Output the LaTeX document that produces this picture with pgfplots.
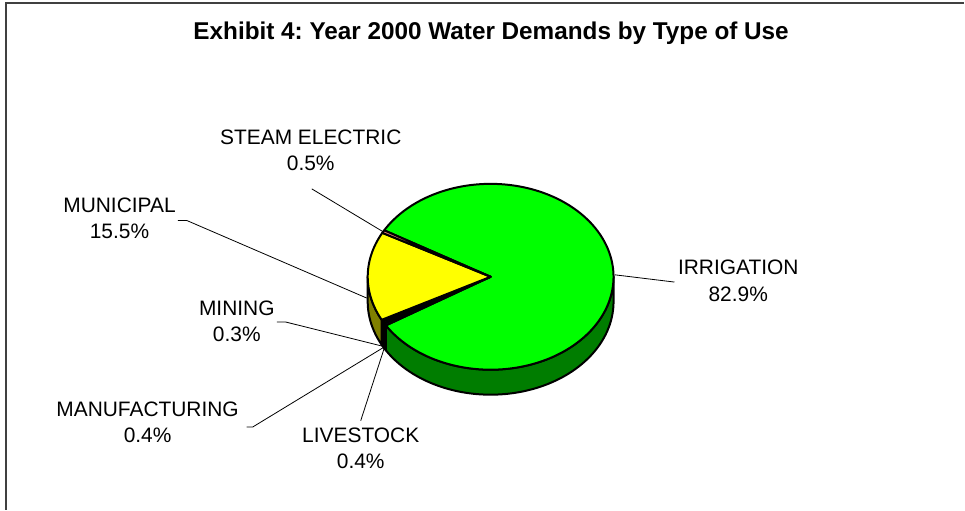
\documentclass[border=0pt]{standalone}
\usepackage{pgfplots}
\pgfplotsset{compat=1.18}
\usepackage{pgfplotstable}
\usepackage{fontspec}
\setmainfont{Liberation Sans}
\frenchspacing
\definecolor{irrtop}{RGB}{0,255,0}
\definecolor{irrside}{RGB}{0,125,0}
\definecolor{muntop}{RGB}{255,255,0}
\definecolor{munside}{RGB}{128,128,0}
\definecolor{steamc}{RGB}{255,128,128}
\definecolor{livc}{RGB}{25,25,40}
\definecolor{manc}{RGB}{40,25,25}
\definecolor{minc}{RGB}{30,30,10}
\newcommand\lab{\fontsize{21}{25}\selectfont}

\pgfplotstableread{
use value
Irrigation 82.9
Livestock 0.4
Manufacturing 0.4
Mining 0.3
Municipal 15.5
SteamElectric 0.5
}\piedata

% pie geometry (axis units = pixels)
\def\cx{491}\def\cy{233}\def\rx{123}\def\ry{93}\def\dep{25}

\newcommand\piewall[3]{%
  \addplot[fill=#1, draw=black, line width=2bp, line join=round, domain=0:2, samples=301]
   ({\cx+\rx*cos(x<1 ? (#2)+((#3)-(#2))*x : (#3)-((#3)-(#2))*(x-1))},
    {\cy+\ry*sin(x<1 ? (#2)+((#3)-(#2))*x : (#3)-((#3)-(#2))*(x-1)) - (x<1 ? 0 : \dep)}) -- cycle;}
\newcommand\pieslice[4]{%
  \addplot[fill=#1, draw=black, line width=2bp, line join=round, domain=#2:#3, samples=#4]
   ({\cx+\rx*cos(x)},{\cy+\ry*sin(x)}) -- (axis cs:\cx,\cy) -- cycle;}

\begin{document}
\begin{tikzpicture}
\pgfplotstablegetelem{0}{value}\of\piedata \let\vIrr\pgfplotsretval
\pgfplotstablegetelem{1}{value}\of\piedata \let\vLiv\pgfplotsretval
\pgfplotstablegetelem{2}{value}\of\piedata \let\vMan\pgfplotsretval
\pgfplotstablegetelem{3}{value}\of\piedata \let\vMin\pgfplotsretval
\pgfplotstablegetelem{4}{value}\of\piedata \let\vMun\pgfplotsretval
\pgfplotstablegetelem{5}{value}\of\piedata \let\vSte\pgfplotsretval
\pgfmathsetmacro\aS{150}
\pgfmathsetmacro\aA{\aS-3.6*\vIrr}
\pgfmathsetmacro\aB{\aA-3.6*\vLiv}
\pgfmathsetmacro\aC{\aB-3.6*\vMan}
\pgfmathsetmacro\aD{\aC-3.6*\vMin}
\pgfmathsetmacro\aE{\aD-3.6*\vMun}
\pgfmathsetmacro\aF{\aE-3.6*\vSte}
\begin{axis}[width=965bp, height=510bp, scale only axis,
  xmin=0, xmax=965, ymin=0, ymax=510, hide axis, clip=false]
\path (axis cs:0,0) rectangle (axis cs:965,510);
% frame
\draw[black!75, line width=1.5bp] (axis cs:6,0) -- (axis cs:6,507) -- (axis cs:965,507);
% title
\node[anchor=base, font=\fontsize{24.4}{29}\selectfont\bfseries] at (axis cs:491.5,470)
  {Exhibit 4: Year 2000 Water Demands by Type of Use};
% side walls (front half)
\piewall{irrside}{\aA}{0}
\piewall{livc}{\aB}{\aA}
\piewall{manc}{\aC}{\aB}
\piewall{minc}{\aD}{\aC}
\piewall{munside}{-180}{\aD}
% top faces
\pieslice{irrtop}{\aA}{\aS}{180}
\pieslice{livc}{\aB}{\aA}{3}
\pieslice{manc}{\aC}{\aB}{3}
\pieslice{minc}{\aD}{\aC}{3}
\pieslice{muntop}{\aE}{\aD}{40}
\pieslice{steamc}{\aF}{\aE}{3}
% leader lines
\draw[black, line width=0.8bp] (axis cs:615,235) -- (axis cs:675,227.7);
\draw[black, line width=0.8bp] (axis cs:178,289.3) -- (axis cs:187,289.3) -- (axis cs:367,211.7);
\draw[black, line width=0.8bp] (axis cs:312,321) -- (axis cs:383,278.3);
\draw[black, line width=0.8bp] (axis cs:277,187.7) -- (axis cs:286,187.7) -- (axis cs:385,163);
\draw[black, line width=0.8bp] (axis cs:246.7,82.7) -- (axis cs:253,82.7) -- (axis cs:385,163);
\draw[black, line width=0.8bp] (axis cs:361,89) -- (axis cs:385,163);
% labels
\node[anchor=base, font=\lab] at (axis cs:311,365) {STEAM ELECTRIC};
\node[anchor=base, font=\lab] at (axis cs:311,339.5) {0.5\%};
\node[anchor=base, font=\lab] at (axis cs:119.6,297) {MUNICIPAL};
\node[anchor=base, font=\lab] at (axis cs:119.6,271) {15.5\%};
\node[anchor=base, font=\lab] at (axis cs:237,194) {MINING};
\node[anchor=base, font=\lab] at (axis cs:237,168.3) {0.3\%};
\node[anchor=base, font=\lab] at (axis cs:147.7,93.3) {MANUFACTURING};
\node[anchor=base, font=\lab] at (axis cs:147.7,67) {0.4\%};
\node[anchor=base, font=\lab] at (axis cs:361,67.5) {LIVESTOCK};
\node[anchor=base, font=\lab] at (axis cs:361,41) {0.4\%};
\node[anchor=base, font=\lab] at (axis cs:738.8,235.7) {IRRIGATION};
\node[anchor=base, font=\lab] at (axis cs:738.8,208.3) {82.9\%};
\end{axis}
\end{tikzpicture}
\end{document}
